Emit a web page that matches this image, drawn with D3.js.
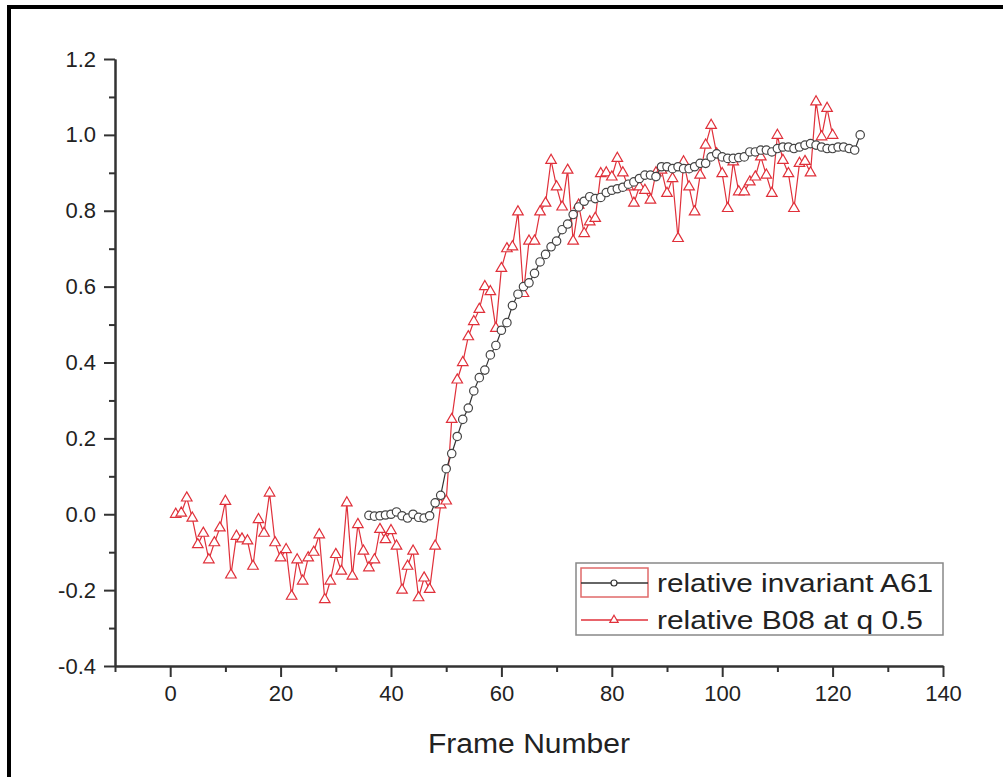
<!DOCTYPE html>
<html>
<head>
<meta charset="utf-8">
<script src="https://cdn.jsdelivr.net/npm/d3@7"></script>
<style>
  body { margin: 0; background: #fff; }
  text { font-family: "Liberation Sans", Arial, sans-serif; fill: #222; }
</style>
</head>
<body>
<svg id="chart" width="1003" height="777"></svg>
<script>
const seriesNames = ["relative invariant A61", "relative B08 at q 0.5"];

// relative B08 at q 0.5, frames 1..120
const b08Start = 1;
const b08Values = [
  0.0, 0.003, 0.043, -0.01, -0.08, -0.05, -0.12, -0.075, -0.036, 0.034,
  -0.16, -0.058, -0.065, -0.07, -0.137, -0.014, -0.05, 0.056, -0.075, -0.115,
  -0.093, -0.216, -0.12, -0.176, -0.115, -0.10, -0.054, -0.225, -0.176, -0.106,
  -0.15, 0.03, -0.163, -0.027, -0.097, -0.141, -0.12, -0.04, -0.067, -0.043,
  -0.084, -0.2, -0.137, -0.097, -0.22, -0.168, -0.198, -0.084, 0.025, 0.035,
  0.25, 0.354, 0.40, 0.468, 0.508, 0.54, 0.60, 0.587, 0.49, 0.648,
  0.70, 0.705, 0.797, 0.582, 0.72, 0.72, 0.797, 0.82, 0.933, 0.863,
  0.81, 0.907, 0.72, 0.815, 0.74, 0.771, 0.78, 0.898, 0.9, 0.889,
  0.938, 0.9, 0.863, 0.82, 0.863, 0.854, 0.828, 0.9, 0.907, 0.846,
  0.885, 0.727, 0.929, 0.863, 0.797, 0.894, 0.973, 1.025, 0.95, 0.898,
  0.806, 0.929, 0.85, 0.85, 0.876, 0.889, 0.942, 0.894, 0.846, 0.999,
  0.933, 0.898, 0.806, 0.925, 0.93, 0.9, 1.087, 0.995, 1.07, 0.999
];

// relative invariant A61, frames 36..125
const a61Start = 36;
const a61Values = [
  -0.003, -0.005, -0.004, -0.002, 0.0, 0.006, -0.004, -0.01, 0.0, -0.008,
  -0.01, -0.004, 0.03, 0.05, 0.12, 0.16, 0.205, 0.25, 0.28, 0.325,
  0.36, 0.38, 0.42, 0.445, 0.485, 0.505, 0.55, 0.58, 0.60, 0.61,
  0.635, 0.665, 0.685, 0.705, 0.72, 0.75, 0.765, 0.79, 0.81, 0.825,
  0.837, 0.832, 0.835, 0.848, 0.854, 0.858, 0.862, 0.87, 0.876, 0.885,
  0.894, 0.894, 0.89, 0.916, 0.916, 0.911, 0.916, 0.911, 0.911, 0.916,
  0.925, 0.925, 0.942, 0.95, 0.942, 0.938, 0.938, 0.94, 0.942, 0.955,
  0.955, 0.96, 0.96, 0.955, 0.964, 0.968, 0.968, 0.964, 0.968, 0.973,
  0.977, 0.973, 0.968, 0.964, 0.964, 0.968, 0.968, 0.964, 0.96, 1.0
];

const xTicks = [0, 20, 40, 60, 80, 100, 120, 140];
const xMinorTicks = [-10, 10, 30, 50, 70, 90, 110, 130];
const yTicks = [-0.4, -0.2, 0.0, 0.2, 0.4, 0.6, 0.8, 1.0, 1.2];
const yMinorTicks = [-0.3, -0.1, 0.1, 0.3, 0.5, 0.7, 0.9, 1.1];

const b08 = b08Values.map((v, i) => ({ frame: b08Start + i, value: v }));
const a61 = a61Values.map((v, i) => ({ frame: a61Start + i, value: v }));

const svg = d3.select("#chart");
const margin = { left: 115, top: 59, right: 60, bottom: 111 };
const width = 1003, height = 777;

const red = "#e0303a";
const dark = "#333";

// frame around the picture
svg.append("rect")
   .attr("x", 9).attr("y", 7)
   .attr("width", 1010).attr("height", 790)
   .attr("fill", "none")
   .attr("stroke", "#000")
   .attr("stroke-width", 4);

const xScale = d3.scaleLinear()
                 .domain([-10, 140])
                 .range([margin.left, width - margin.right]);
const yScale = d3.scaleLinear()
                 .domain([-0.4, 1.2])
                 .range([height - margin.bottom, margin.top]);

const xAxis = d3.axisBottom(xScale)
                .tickValues(xTicks)
                .tickFormat(d3.format("d"))
                .tickSize(11)
                .tickSizeOuter(0)
                .tickPadding(8);
const xMinor = d3.axisBottom(xScale).tickValues(xMinorTicks).tickFormat("").tickSize(6).tickSizeOuter(0);
const yAxis = d3.axisLeft(yScale)
                .tickValues(yTicks)
                .tickFormat(d => d.toFixed(1))
                .tickSize(11)
                .tickSizeOuter(0)
                .tickPadding(8);
const yMinor = d3.axisLeft(yScale).tickValues(yMinorTicks).tickFormat("").tickSize(6).tickSizeOuter(0);

const styleAxis = g => {
  g.selectAll("path, line").attr("stroke", dark).attr("stroke-width", 2);
  g.selectAll("text").attr("font-size", 22).attr("fill", "#222")
   .attr("font-family", "Liberation Sans, Arial, sans-serif");
};

svg.append("g").attr("transform", `translate(0, ${yScale(-0.4)})`).call(xMinor).call(styleAxis);
svg.append("g").attr("transform", `translate(0, ${yScale(-0.4)})`).call(xAxis).call(styleAxis);
svg.append("g").attr("transform", `translate(${xScale(-10)}, 0)`).call(yMinor).call(styleAxis);
svg.append("g").attr("transform", `translate(${xScale(-10)}, 0)`).call(yAxis).call(styleAxis);

svg.append("text")
   .attr("x", (xScale(-10) + xScale(140)) / 2)
   .attr("y", 753)
   .attr("text-anchor", "middle")
   .attr("font-size", 27)
   .attr("textLength", 202)
   .attr("lengthAdjust", "spacingAndGlyphs")
   .text("Frame Number");

const line = d3.line()
               .x(d => xScale(d.frame))
               .y(d => yScale(d.value));

const triangle = d3.symbol().type(d3.symbolTriangle).size(48);

// red series
svg.append("path")
   .attr("d", line(b08))
   .attr("fill", "none")
   .attr("stroke", red)
   .attr("stroke-width", 1.2);

svg.selectAll(".tri")
   .data(b08)
   .enter()
   .append("path")
     .attr("class", "tri")
     .attr("d", triangle)
     .attr("transform", d => `translate(${xScale(d.frame)}, ${yScale(d.value)})`)
     .attr("fill", "#fff")
     .attr("stroke", red)
     .attr("stroke-width", 1.2);

// black series
svg.append("path")
   .attr("d", line(a61))
   .attr("fill", "none")
   .attr("stroke", dark)
   .attr("stroke-width", 1.2);

svg.selectAll(".dot")
   .data(a61)
   .enter()
   .append("circle")
     .attr("class", "dot")
     .attr("cx", d => xScale(d.frame))
     .attr("cy", d => yScale(d.value))
     .attr("r", 4.2)
     .attr("fill", "#fff")
     .attr("stroke", "#444")
     .attr("stroke-width", 1.2);

// legend
const legend = svg.append("g").attr("transform", "translate(576, 563)");
legend.append("rect")
      .attr("width", 367).attr("height", 72)
      .attr("fill", "#fff")
      .attr("stroke", "#888")
      .attr("stroke-width", 1.5);
legend.append("rect")
      .attr("x", 5).attr("y", 5)
      .attr("width", 67).attr("height", 29)
      .attr("fill", "none")
      .attr("stroke", "#e06a6a")
      .attr("stroke-width", 1.5);

const rows = [
  { name: seriesNames[0], color: dark, y: 20, marker: "circle", len: 276 },
  { name: seriesNames[1], color: red, y: 57, marker: "triangle", len: 266 }
];
rows.forEach(r => {
  legend.append("line")
        .attr("x1", 5).attr("x2", 72)
        .attr("y1", r.y).attr("y2", r.y)
        .attr("stroke", r.color)
        .attr("stroke-width", 1.5);
  if (r.marker === "circle") {
    legend.append("circle")
          .attr("cx", 38).attr("cy", r.y).attr("r", 3)
          .attr("fill", "#fff").attr("stroke", r.color).attr("stroke-width", 1.2);
  } else {
    legend.append("path")
          .attr("d", d3.symbol().type(d3.symbolTriangle).size(30))
          .attr("transform", `translate(38, ${r.y})`)
          .attr("fill", "#fff").attr("stroke", r.color).attr("stroke-width", 1.2);
  }
  legend.append("text")
        .attr("x", 81)
        .attr("y", r.y + 9)
        .attr("font-size", 26)
        .attr("textLength", r.len)
        .attr("lengthAdjust", "spacingAndGlyphs")
        .text(r.name);
});
</script>
</body>
</html>
